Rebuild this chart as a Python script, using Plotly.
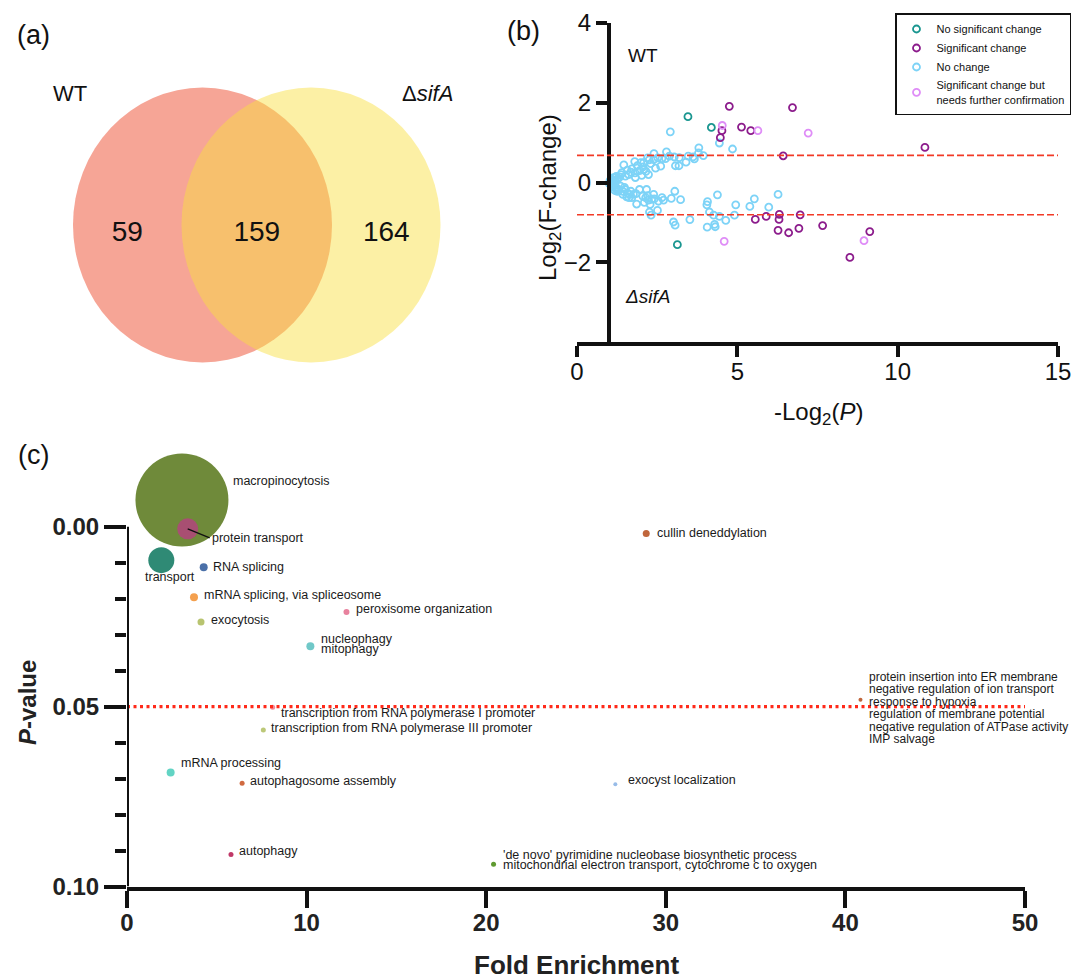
import plotly.graph_objects as go

W, H = 1074, 980
FONT = "Liberation Sans, Arial, Helvetica, sans-serif"

# ---------------- (a) Venn data ----------------
venn_sets = ["WT", "ΔsifA"]
venn_counts = [59, 159, 164]  # WT only, shared, ΔsifA only

# ---------------- (b) volcano-like data ----------------
nsc_x = [3.46, 4.19, 3.13]
nsc_y = [1.65, 1.38, -1.56]

sig_x = [4.75, 6.72, 4.52, 4.47, 5.13, 5.42, 6.43, 10.85, 5.56, 5.90,
         6.31, 6.30, 6.96, 6.27, 6.60, 6.92, 7.66, 9.13, 8.51]
sig_y = [1.91, 1.88, 1.30, 1.125, 1.39, 1.30, 0.67, 0.88, -0.925, -0.85,
         -0.80, -0.925, -0.81, -1.20, -1.26, -1.15, -1.08, -1.23, -1.88]

conf_x = [4.53, 5.64, 7.21, 4.59, 8.95]
conf_y = [1.43, 1.30, 1.24, -1.475, -1.46]

nc_x = [2.91, 4.44, 4.85, 3.80, 3.79, 3.94, 3.66, 3.47, 3.40, 3.18, 3.07, 3.19, 3.03,
        2.79, 2.76, 2.65, 2.61, 2.40, 2.39, 2.25, 2.30, 2.23, 2.06, 2.08, 2.08, 1.99,
        1.80, 1.82, 1.71, 1.81, 1.61, 1.57, 1.46, 1.51, 1.37, 1.29, 1.18, 1.10, 1.06,
        1.68, 2.45, 2.15, 1.95, 1.40, 1.33, 1.25, 2.52, 2.88, 2.20, 3.62, 2.02, 1.88,
        1.11, 1.22, 1.29, 1.36, 1.43, 1.50, 1.57, 1.43, 1.63, 1.71, 1.62, 1.76, 1.86,
        1.95, 2.05, 2.17, 2.14, 2.23, 2.28, 2.39, 2.33, 2.41, 2.54, 2.65, 2.70, 2.26,
        2.31, 2.51, 2.94, 3.05, 3.23, 3.01, 3.06, 3.52, 4.07, 4.05, 4.38, 4.13, 4.26,
        4.44, 4.06, 4.29, 4.31, 4.64, 4.91, 4.95, 5.39, 5.53, 5.98, 6.27, 1.30, 1.48,
        1.55, 1.68, 1.84, 2.10, 2.20,
        1.02, 1.04, 1.06, 1.08, 1.05, 1.12, 1.15, 1.20, 1.03, 1.09, 1.14, 1.22, 1.18,
        1.26, 1.01, 1.07]
nc_y = [1.27, 0.99, 0.84, 0.87, 0.74, 0.675, 0.59, 0.66, 0.51, 0.42, 0.42, 0.625, 0.64,
        0.77, 0.60, 0.60, 0.41, 0.725, 0.575, 0.57, 0.475, 0.20, 0.39, 0.32, 0.50, 0.50,
        0.525, 0.125, 0.34, 0.24, 0.20, 0.31, 0.44, 0.16, 0.20, 0.10, 0.06, 0.02, 0.04,
        0.26, 0.36, 0.28, 0.30, 0.25, 0.14, 0.08, 0.62, 0.66, 0.62, 0.64, 0.18, 0.42,
        -0.075, -0.12, -0.175, -0.09, -0.22, -0.175, -0.26, -0.30, -0.30, -0.38, -0.38, -0.30, -0.54,
        -0.175, -0.34, -0.175, -0.38, -0.44, -0.55, -0.30, -0.42, -0.41, -0.47, -0.38, -0.44, -0.74,
        -0.82, -0.70, -0.40, -0.22, -0.43, -0.99, -1.07, -0.93, -0.48, -0.56, -0.31, -0.74, -0.82,
        -0.85, -1.12, -1.05, -1.11, -0.95, -0.82, -0.56, -0.60, -0.41, -0.62, -0.30, -0.20, -0.12,
        -0.36, -0.22, -0.28, -0.50, -0.33,
        0.00, -0.02, 0.01, -0.04, -0.06, 0.03, -0.10, -0.15, 0.05, 0.08, 0.12, 0.15, -0.20,
        -0.22, -0.03, 0.05]

fc_thresholds = [0.68, -0.81]

# ---------------- (c) GO enrichment bubble data ----------------
go_terms = [
    ["macropinocytosis"],
    ["protein transport"],
    ["transport"],
    ["RNA splicing"],
    ["mRNA splicing, via spliceosome"],
    ["exocytosis"],
    ["peroxisome organization"],
    ["nucleophagy", "mitophagy"],
    ["transcription from RNA polymerase I promoter"],
    ["transcription from RNA polymerase III promoter"],
    ["mRNA processing"],
    ["autophagosome assembly"],
    ["autophagy"],
    ["'de novo' pyrimidine nucleobase biosynthetic process",
     "mitochondrial electron transport, cytochrome c to oxygen"],
    ["cullin deneddylation"],
    ["exocyst localization"],
    ["protein insertion into ER membrane", "negative regulation of ion transport",
     "response to hypoxia", "regulation of membrane potential",
     "negative regulation of ATPase activity", "IMP salvage"],
]
fold_enrichment = [3.06, 3.38, 1.91, 4.27, 3.73, 4.12, 12.22, 10.21, 8.11, 7.59,
                   2.43, 6.41, 5.79, 20.41, 28.91, 27.19, 40.84]
p_values = [-0.0074, 0.0006, 0.0093, 0.0113, 0.0196, 0.0265, 0.0237, 0.0332, 0.0502,
            0.0565, 0.0683, 0.0713, 0.0911, 0.0938, 0.0019, 0.0716, 0.0481]
bubble_size = [93, 21, 26, 8, 8, 7, 6, 8, 5, 5, 8, 5, 5, 5, 7, 4, 4]
p_cutoff = 0.05

# ---------------- styles ----------------
bubble_colors = ["#6f8a3a", "#a84f72", "#2f8a75", "#4a70a8", "#f4a04e", "#b8c470",
                 "#e8829e", "#70c8c8", "#f08a98", "#bcc878", "#62d4c4", "#d06a40",
                 "#c03868", "#5f9a30", "#c0663c", "#98bce8", "#c0663c"]
# label offsets: (xshift px, yshift px, xanchor, line spacing px, font size)
label_style = [(49, 19, "left", 0, 12.5), (0, 0, "arrow", 0, 12.5), (9, -17, "center", 0, 12.5),
               (7, 0, "left", 0, 12.5), (8, 2, "left", 0, 12.5), (8, 2, "left", 0, 12.5),
               (8, 3, "left", 0, 12.5), (9, 2, "left", 10.7, 12.5), (6, -6, "left", 0, 12.5),
               (6, 2, "left", 0, 12.5), (8, 9, "left", 0, 12.5), (6, 2, "left", 0, 12.5),
               (6, 3, "left", 0, 12.5), (7, 4, "left", 10, 12.5), (9, 1, "left", 0, 12.5),
               (11, 4, "left", 0, 12.5), (7, -8, "left", 12.5, 12)]


def pxx(x):
    return x / W


def pxy(y):
    return 1 - y / H


def paper_text(txt, x, y, size, angle=0, color="#111"):
    fig.add_annotation(xref="paper", yref="paper", x=pxx(x), y=pxy(y), text=txt,
                       xanchor="center", yanchor="middle", textangle=angle,
                       showarrow=False, font=dict(size=size, color=color, family=FONT))


fig = go.Figure()

# ---------- panel (a) Venn ----------
venn_cx = [202.5, 311.0]
venn_cy = 225.0
venn_rx, venn_ry = 129.5, 137.5
venn_fill = ["#f6a596", "#f9df40"]
venn_op = [1.0, 0.47]
for i in range(2):
    fig.add_shape(type="circle", xref="x3", yref="y3",
                  x0=venn_cx[i] - venn_rx, x1=venn_cx[i] + venn_rx,
                  y0=venn_cy - venn_ry, y1=venn_cy + venn_ry,
                  fillcolor=venn_fill[i], opacity=venn_op[i], line_width=0, layer="below")
left_edge_r = venn_cx[1] - venn_rx
right_edge_l = venn_cx[0] + venn_rx
region_x = [(venn_cx[0] - venn_rx + left_edge_r) / 2,
            (left_edge_r + right_edge_l) / 2,
            (right_edge_l + venn_cx[1] + venn_rx) / 2]
fig.add_trace(go.Scatter(x=region_x, y=[venn_cy + 9] * 3, mode="text",
                         text=[str(v) for v in venn_counts],
                         textfont=dict(size=28, color="#111", family=FONT),
                         xaxis="x3", yaxis="y3", showlegend=False, hoverinfo="skip"))
fig.add_annotation(x=70, y=93, xref="x3", yref="y3", text=venn_sets[0], showarrow=False,
                   xanchor="center", yanchor="middle",
                   font=dict(size=22, color="#111", family=FONT))
fig.add_annotation(x=427, y=93, xref="x3", yref="y3", text="Δ<i>sifA</i>", showarrow=False,
                   xanchor="center", yanchor="middle",
                   font=dict(size=22, color="#111", family=FONT))

# ---------- panel (b) ----------
mk = dict(symbol="circle-open", size=7, line=dict(width=1.8))
fig.add_trace(go.Scatter(x=nc_x, y=nc_y, mode="markers", name="No change",
                         marker=dict(color="#7dd3f7", **mk), xaxis="x2", yaxis="y2",
                         legendrank=3, cliponaxis=False))
fig.add_trace(go.Scatter(x=nsc_x, y=nsc_y, mode="markers", name="No significant change",
                         marker=dict(color="#1a9690", **mk), xaxis="x2", yaxis="y2",
                         legendrank=1, cliponaxis=False))
fig.add_trace(go.Scatter(x=sig_x, y=sig_y, mode="markers", name="Significant change",
                         marker=dict(color="#8c1c8c", **mk), xaxis="x2", yaxis="y2",
                         legendrank=2, cliponaxis=False))
fig.add_trace(go.Scatter(x=conf_x, y=conf_y, mode="markers",
                         name="Significant change but<br>needs further confirmation",
                         marker=dict(color="#df8df7", **mk), xaxis="x2", yaxis="y2",
                         legendrank=4, cliponaxis=False))
for t in fc_thresholds:
    fig.add_shape(type="line", xref="x2", yref="y2", x0=0, x1=15, y0=t, y1=t,
                  line=dict(color="#f23a26", width=1.6, dash="7px,3px"))
paper_text("WT", 643, 55, 19)
paper_text("<i>ΔsifA</i>", 647, 296, 19)

# ---------- panel (c) ----------
fig.add_trace(go.Scatter(x=fold_enrichment, y=p_values, mode="markers",
                         marker=dict(size=bubble_size, sizemode="diameter", color=bubble_colors,
                                     line=dict(width=0), opacity=1),
                         xaxis="x", yaxis="y", showlegend=False, cliponaxis=False,
                         hovertext=[" / ".join(t) for t in go_terms], hoverinfo="text"))
fig.add_shape(type="line", xref="x", yref="y", x0=0, x1=50, y0=p_cutoff, y1=p_cutoff,
              line=dict(color="#ff2a1a", width=3.2, dash="3px,3.5px"))
# y-axis spine of panel (c) only spans 0.00 – 0.10
fig.add_shape(type="line", xref="x", yref="y", x0=0, x1=0, y0=0, y1=0.1,
              line=dict(color="#111", width=4))

for i, lines in enumerate(go_terms):
    xs, ys, anc, sp, fs = label_style[i]
    lab_font = dict(size=fs, color="#1a1a1a", family=FONT)
    if anc == "arrow":
        fig.add_annotation(x=fold_enrichment[i], y=p_values[i], xref="x", yref="y",
                           text=lines[0], showarrow=True, arrowhead=0, arrowwidth=1.3,
                           arrowcolor="#111", ax=22, ay=9, xanchor="left", yanchor="middle",
                           font=lab_font)
        continue
    n = len(lines)
    for j, line in enumerate(lines):
        yy = ys + (n - 1) / 2 * sp - j * sp
        fig.add_annotation(x=fold_enrichment[i], y=p_values[i], xref="x", yref="y",
                           text=line, showarrow=False, xanchor=anc, yanchor="middle",
                           xshift=xs, yshift=yy, font=lab_font)

# ---------- panel letters & axis titles ----------
paper_text("(a)", 33, 35, 27)
paper_text("(b)", 523, 31, 27)
paper_text("(c)", 33, 455, 27)
paper_text("Log<sub>2</sub>(F-change)", 550, 198, 24, angle=-90)
paper_text("-Log<sub>2</sub>(<i>P</i>)", 818, 413, 24)
paper_text("<b><i>P</i>-value</b>", 27, 703, 24, angle=-90, color="#222")
paper_text("<b>Fold Enrichment</b>", 576, 965, 26, color="#222")

axis_common = dict(showgrid=False, zeroline=False, linecolor="#111",
                   linewidth=4, ticks="outside", tickcolor="#111", tickwidth=4,
                   automargin=False)

c_top = -0.0115  # a little headroom above 0.00 for the large bubble
fig.update_layout(
    width=W, height=H, autosize=False,
    margin=dict(l=0, r=0, t=0, b=0, pad=0, autoexpand=False),
    paper_bgcolor="white", plot_bgcolor="rgba(0,0,0,0)",
    font=dict(family=FONT, color="#111"),
    xaxis=dict(domain=[pxx(127), pxx(1025)], range=[0, 50], anchor="y", showline=True,
               tickvals=[0, 10, 20, 30, 40, 50], ticklen=17, ticklabelstandoff=-5,
               tickfont=dict(size=24, weight="bold", color="#222", family=FONT),
               **axis_common),
    yaxis=dict(domain=[pxy(886.5), pxy(526.7 + c_top * 3600)], range=[0.1, c_top],
               anchor="x", showline=False,
               tickvals=[0, 0.05, 0.1], ticktext=["0.00", "0.05", "0.10"], ticklen=22,
               tickfont=dict(size=24, weight="bold", color="#222", family=FONT),
               minor=dict(tickvals=[0.01, 0.02, 0.03, 0.04, 0.06, 0.07, 0.08, 0.09],
                          ticks="outside", ticklen=11, tickwidth=4, tickcolor="#111"),
               **axis_common),
    xaxis2=dict(domain=[pxx(577), pxx(1058)], range=[0, 15], anchor="y2", showline=True,
                tickvals=[0, 5, 10, 15], ticklen=11, ticklabelstandoff=-6,
                tickfont=dict(size=24, color="#111", family=FONT), **axis_common),
    yaxis2=dict(domain=[pxy(342), pxy(23)], range=[-4, 4], anchor="free", showline=True,
                position=pxx(609), tickvals=[-2, 0, 2, 4], ticklen=11,
                tickfont=dict(size=24, color="#111", family=FONT), **axis_common),
    xaxis3=dict(domain=[0, pxx(515)], range=[0, 515], visible=False, fixedrange=True),
    yaxis3=dict(domain=[pxy(440), 1], range=[440, 0], visible=False, fixedrange=True),
    legend=dict(x=pxx(895), y=pxy(13), xanchor="left", yanchor="top",
                bordercolor="#111", borderwidth=1.5, bgcolor="white",
                font=dict(size=11, color="#111", family=FONT),
                itemwidth=30, tracegroupgap=0),
    showlegend=True,
)

fig.write_html("out.html", config={"displayModeBar": False},
               post_script="document.body.style.margin='0';document.body.style.overflow='hidden';")
